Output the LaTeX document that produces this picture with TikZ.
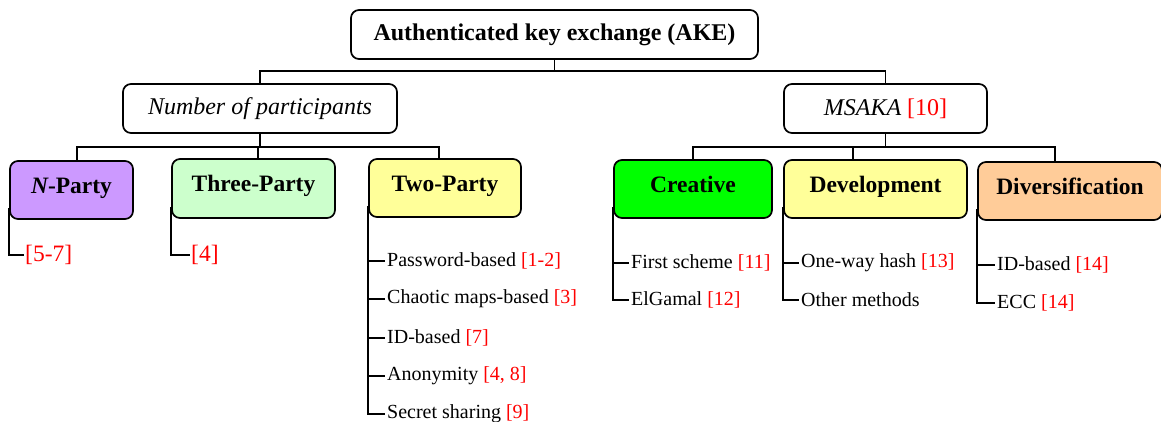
\documentclass[tikz,border=0pt]{standalone}
\usepackage{fontspec}
\setmainfont{Liberation Serif}
\usetikzlibrary{calc}
\definecolor{refred}{RGB}{255,0,0}
\definecolor{fpurple}{RGB}{204,153,255}
\definecolor{fgreen}{RGB}{204,255,204}
\definecolor{fyellow}{RGB}{255,255,153}
\definecolor{fbright}{RGB}{0,255,0}
\definecolor{forange}{RGB}{255,204,153}
\tikzset{
  box/.style={draw=black, line width=1.7pt, rounded corners=8pt, inner sep=0pt, align=center},
  topbox/.style={box, font=\fontsize{24}{28}\selectfont},
  catbox/.style={box, font=\fontsize{23.5}{28}\selectfont\bfseries, text height=17pt, text depth=11pt},
  leaf/.style={anchor=west, inner sep=2pt, font=\fontsize{20}{24}\selectfont},
  bigref/.style={anchor=west, inner sep=1pt, font=\fontsize{23.5}{28}\selectfont, text=refred},
  conn/.style={line width=1.8pt},
}
\newcommand{\rf}[1]{\textcolor{refred}{#1}}
\begin{document}
\begin{tikzpicture}[x=1pt,y=-1pt]
\useasboundingbox (0,0) rectangle (1161,421);

% top
\node[topbox, font=\fontsize{24}{28}\selectfont\bfseries, minimum width=407pt, minimum height=49pt] (root) at (554.5,34.5) {Authenticated key exchange (AKE)};
\node[topbox, minimum width=274pt, minimum height=49pt] (num) at (260,108.5) {\itshape Number of participants};
\node[topbox, minimum width=203pt, minimum height=49pt] (msaka) at (885.5,108.5) {{\itshape MSAKA} \rf{[10]}};

% categories
\node[catbox, fill=fpurple, minimum width=123pt, minimum height=58pt] (np) at (71.5,190) {{\itshape N}-Party};
\node[catbox, fill=fgreen, minimum width=163pt, minimum height=59pt] (three) at (253.5,188.5) {Three-Party};
\node[catbox, fill=fyellow, minimum width=152pt, minimum height=58pt] (two) at (445,188) {Two-Party};
\node[catbox, fill=fbright, minimum width=158pt, minimum height=58pt] (cre) at (693,189) {Creative};
\node[catbox, fill=fyellow, minimum width=183pt, minimum height=58pt] (dev) at (875.5,189) {Development};
\node[catbox, fill=forange, minimum width=184pt, minimum height=58pt] (div) at (1070,191) {Diversification};

% connectors top
\coordinate (r1) at (554.5,71);
\draw[conn] (root.south) -- (r1);
\draw[conn] (r1) -| (num.north);
\draw[conn] (r1) -| (msaka.north);
\coordinate (b1) at (260,147);
\draw[conn] (num.south) -- (b1);
\draw[conn] (b1) -| ([xshift=5.5pt]np.north);
\draw[conn] (b1) -| ([xshift=4.5pt]three.north);
\draw[conn] (b1) -| ([xshift=-6pt]two.north);
\coordinate (b2) at (885.5,147);
\draw[conn] (msaka.south) -- (b2);
\draw[conn] (b2) -| (cre.north);
\draw[conn] (b2) -| ([xshift=-22.5pt]dev.north);
\draw[conn] (b2) -| ([xshift=-15pt]div.north);

% leaves
\node[bigref] (l1) at (24,255) {[5-7]};
\node[bigref] (l2) at (190,255) {[4]};
\draw[conn] ($(np.south west)+(0,-12)$) |- (l1.west);
\draw[conn] ($(three.south west)+(0,-12)$) |- (l2.west);

\node[leaf] (t1) at (385,261) {Password-based \rf{[1-2]}};
\node[leaf] (t2) at (385,299) {Chaotic maps-based \rf{[3]}};
\node[leaf] (t3) at (385,338) {ID-based \rf{[7]}};
\node[leaf] (t4) at (385,376) {Anonymity \rf{[4, 8]}};
\node[leaf] (t5) at (385,414) {Secret sharing \rf{[9]}};
\foreach \t in {t1,t2,t3,t4,t5}
  \draw[conn] ($(two.south west)+(0,-12)$) |- (\t.west);

\node[leaf] (c1) at (629,263) {First scheme \rf{[11]}};
\node[leaf] (c2) at (629,300) {ElGamal \rf{[12]}};
\draw[conn] ($(cre.south west)+(0,-12)$) |- (c1.west);
\draw[conn] ($(cre.south west)+(0,-12)$) |- (c2.west);

\node[leaf] (d1) at (799,263) {One-way hash \rf{[13]}};
\node[leaf] (d2) at (799,300) {Other methods};
\draw[conn] ($(dev.south west)+(0,-12)$) |- (d1.west);
\draw[conn] ($(dev.south west)+(0,-12)$) |- (d2.west);

\node[leaf] (v1) at (995,265) {ID-based \rf{[14]}};
\node[leaf] (v2) at (995,303) {ECC \rf{[14]}};
\draw[conn] ($(div.south west)+(0,-12)$) |- (v1.west);
\draw[conn] ($(div.south west)+(0,-12)$) |- (v2.west);
\end{tikzpicture}
\end{document}
